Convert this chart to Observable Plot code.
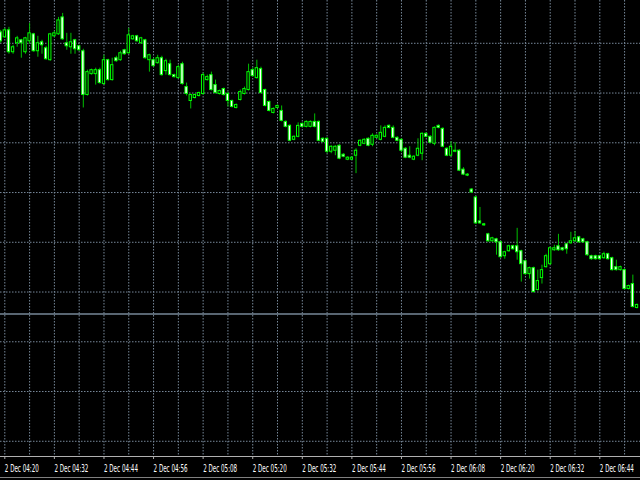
<!DOCTYPE html>
<html><head><meta charset="utf-8">
<script src="https://cdn.jsdelivr.net/npm/d3@7"></script>
<script src="https://cdn.jsdelivr.net/npm/@observablehq/plot@0.6"></script>
<style>
html,body{margin:0;padding:0;background:#000;overflow:hidden;}
#chart svg{display:block;}
#edge{height:1px;background:#808080;}
</style></head><body>
<div id="chart"></div>
<div id="edge"></div>
<script>
// 1-minute bars, first bar at 2 Dec 04:19
const firstBar = "2020-12-02T04:19:00Z";
const open = [1.31011,1.31006,1.31013,1.30991,1.31000,1.31003,1.30991,1.31002,1.31009,1.30992,
1.31001,1.30995,1.30983,1.31007,1.31009,1.31026,1.31000,1.30996,1.31003,1.30997,
1.30992,1.30948,1.30969,1.30969,1.30973,1.30959,1.30983,1.30963,1.30985,1.30983,
1.30993,1.30990,1.31004,1.31007,1.31000,1.31003,1.30983,1.30983,1.30980,1.30985,
1.30972,1.30979,1.30968,1.30965,1.30979,1.30956,1.30942,1.30945,1.30947,1.30949,
1.30963,1.30968,1.30958,1.30949,1.30954,1.30949,1.30942,1.30935,1.30943,1.30949,
1.30953,1.30973,1.30965,1.30974,1.30953,1.30941,1.30930,1.30935,1.30932,1.30921,
1.30917,1.30903,1.30906,1.30919,1.30916,1.30916,1.30921,1.30921,1.30904,1.30904,
1.30891,1.30892,1.30897,1.30888,1.30883,1.30883,1.30887,1.30897,1.30899,1.30904,
1.30898,1.30905,1.30903,1.30906,1.30917,1.30915,1.30905,1.30903,1.30894,1.30887,
1.30883,1.30887,1.30889,1.30909,1.30906,1.30899,1.30917,1.30914,1.30894,1.30887,
1.30891,1.30892,1.30873,1.30868,1.30853,1.30845,1.30821,1.30818,1.30808,1.30801,
1.30803,1.30800,1.30786,1.30791,1.30796,1.30796,1.30791,1.30781,1.30768,1.30774,
1.30752,1.30764,1.30775,1.30778,1.30792,1.30796,1.30794,1.30798,1.30799,1.30801,
1.30805,1.30803,1.30800,1.30786,1.30786,1.30786,1.30784,1.30788,1.30784,1.30775,
1.30772,1.30772,1.30753,1.30758,1.30734];
const high = [1.31013,1.31015,1.31016,1.30998,1.31007,1.31004,1.31006,1.31020,1.31010,1.31007,
1.31003,1.30997,1.31010,1.31012,1.31026,1.31030,1.31010,1.31010,1.31004,1.30998,
1.30994,1.30973,1.30974,1.30975,1.30975,1.30988,1.30984,1.30985,1.30987,1.30992,
1.30994,1.31015,1.31008,1.31008,1.31006,1.31004,1.30989,1.30985,1.30988,1.30987,
1.30984,1.30983,1.30969,1.30978,1.30981,1.30960,1.30949,1.30949,1.30951,1.30970,
1.30968,1.30971,1.30963,1.30953,1.30955,1.30951,1.30943,1.30939,1.30953,1.30956,
1.30979,1.30975,1.30983,1.30976,1.30954,1.30942,1.30935,1.30938,1.30937,1.30922,
1.30918,1.30907,1.30920,1.30920,1.30922,1.30922,1.30929,1.30922,1.30905,1.30905,
1.30897,1.30897,1.30898,1.30889,1.30886,1.30886,1.30894,1.30903,1.30904,1.30905,
1.30909,1.30908,1.30917,1.30917,1.30918,1.30917,1.30906,1.30904,1.30895,1.30896,
1.30887,1.30904,1.30910,1.30910,1.30907,1.30916,1.30918,1.30915,1.30895,1.30901,
1.30900,1.30893,1.30875,1.30869,1.30854,1.30846,1.30835,1.30819,1.30809,1.30805,
1.30804,1.30801,1.30791,1.30797,1.30797,1.30814,1.30792,1.30782,1.30775,1.30775,
1.30772,1.30777,1.30788,1.30795,1.30797,1.30808,1.30795,1.30799,1.30810,1.30811,
1.30806,1.30804,1.30801,1.30787,1.30787,1.30787,1.30790,1.30789,1.30785,1.30782,
1.30776,1.30773,1.30757,1.30767,1.30738];
const low = [1.31000,1.31005,1.30989,1.30989,1.30996,1.30985,1.30989,1.30999,1.30991,1.30986,
1.30989,1.30983,1.30982,1.31006,1.31008,1.31003,1.30993,1.30989,1.30989,1.30992,
1.30935,1.30947,1.30968,1.30958,1.30959,1.30958,1.30962,1.30962,1.30981,1.30982,
1.30988,1.30989,1.31003,1.31001,1.30999,1.30984,1.30971,1.30976,1.30979,1.30967,
1.30968,1.30967,1.30965,1.30964,1.30958,1.30947,1.30934,1.30944,1.30946,1.30948,
1.30962,1.30952,1.30949,1.30948,1.30947,1.30936,1.30935,1.30934,1.30942,1.30948,
1.30952,1.30966,1.30964,1.30949,1.30936,1.30931,1.30929,1.30934,1.30921,1.30915,
1.30901,1.30902,1.30905,1.30915,1.30915,1.30915,1.30915,1.30901,1.30900,1.30889,
1.30889,1.30887,1.30883,1.30885,1.30882,1.30882,1.30869,1.30896,1.30898,1.30896,
1.30896,1.30904,1.30902,1.30905,1.30914,1.30904,1.30901,1.30890,1.30884,1.30884,
1.30882,1.30886,1.30882,1.30905,1.30899,1.30897,1.30914,1.30895,1.30886,1.30886,
1.30890,1.30871,1.30867,1.30866,1.30849,1.30818,1.30818,1.30816,1.30800,1.30800,
1.30787,1.30784,1.30783,1.30790,1.30792,1.30782,1.30760,1.30767,1.30763,1.30749,
1.30751,1.30758,1.30774,1.30777,1.30791,1.30791,1.30791,1.30788,1.30798,1.30800,
1.30799,1.30799,1.30786,1.30782,1.30782,1.30782,1.30783,1.30782,1.30771,1.30771,
1.30771,1.30752,1.30752,1.30734,1.30733];
const close = [1.31002,1.31013,1.30991,1.30996,1.31005,1.31000,1.31005,1.31010,1.30992,1.31000,
1.30998,1.30984,1.31009,1.31010,1.31023,1.31004,1.30997,1.31001,1.30994,1.30993,
1.30948,1.30971,1.30973,1.30973,1.30960,1.30983,1.30963,1.30978,1.30982,1.30990,
1.30989,1.31008,1.31007,1.31002,1.31005,1.30985,1.30988,1.30977,1.30985,1.30968,
1.30982,1.30968,1.30966,1.30976,1.30959,1.30949,1.30948,1.30948,1.30950,1.30968,
1.30966,1.30953,1.30950,1.30952,1.30948,1.30942,1.30936,1.30938,1.30951,1.30954,
1.30971,1.30967,1.30975,1.30950,1.30937,1.30932,1.30934,1.30937,1.30922,1.30916,
1.30902,1.30906,1.30917,1.30916,1.30921,1.30921,1.30916,1.30902,1.30901,1.30891,
1.30896,1.30896,1.30884,1.30886,1.30885,1.30885,1.30892,1.30902,1.30903,1.30897,
1.30907,1.30907,1.30910,1.30915,1.30915,1.30905,1.30902,1.30892,1.30885,1.30885,
1.30886,1.30894,1.30909,1.30906,1.30900,1.30915,1.30915,1.30896,1.30887,1.30896,
1.30892,1.30872,1.30868,1.30867,1.30850,1.30819,1.30819,1.30817,1.30801,1.30804,
1.30800,1.30785,1.30790,1.30796,1.30793,1.30790,1.30778,1.30768,1.30774,1.30750,
1.30761,1.30772,1.30786,1.30794,1.30794,1.30792,1.30792,1.30793,1.30801,1.30804,
1.30800,1.30800,1.30787,1.30783,1.30783,1.30783,1.30788,1.30783,1.30772,1.30772,
1.30775,1.30753,1.30756,1.30735,1.30737];
const askPrice = 1.30728;
const gridPrices = [1.3100,1.3095,1.3090,1.3085,1.3080,1.3075,1.3070,1.3065,1.3060];
const tickTimes = ["04:20","04:32","04:44","04:56","05:08","05:20","05:32","05:44","05:56","06:08","06:20","06:32","06:44"];
const dayLabel = "2 Dec";

const MIN = 60000;
const t0 = new Date(firstBar);
const bars = open.map((o, i) => ({
  t: new Date(+t0 + i * MIN), open: o, high: high[i], low: low[i], close: close[i]
}));
const tickDates = tickTimes.map(s => new Date("2020-12-02T" + s + ":00Z"));
const gridTimes = d3.range(26).map(k => new Date(+tickDates[0] + k * 6 * MIN));
const xDomain = [new Date("2020-12-02T04:18:57.5Z"), new Date("2020-12-02T06:53:51Z")];
const yDomain = [1.305847, 1.31043];
const half = 17000;

const chart = Plot.plot({
  width: 640, height: 477,
  marginTop: 0, marginRight: 0, marginBottom: 21, marginLeft: 0,
  style: {background: "#000", color: "#fff", fontFamily: "DejaVu Sans, sans-serif", fontSize: "10px"},
  x: {type: "utc", domain: xDomain},
  y: {domain: yDomain, axis: null},
  marks: [
    Plot.ruleY(gridPrices, {stroke: "#778899", strokeDasharray: "1.5,1.5"}),
    Plot.ruleX(gridTimes, {stroke: "#778899", strokeDasharray: "1.5,1.5"}),
    Plot.ruleY([askPrice], {stroke: "#778899", strokeWidth: 1.5}),
    Plot.ruleX(bars, {x: "t", y1: "low", y2: "high", stroke: "#00c000"}),
    Plot.rect(bars, {
      x1: d => new Date(+d.t - half), x2: d => new Date(+d.t + half),
      y1: "open", y2: "close",
      fill: d => d.close < d.open ? "#ffffff" : "#000000",
      stroke: "#00ff00", strokeWidth: 1
    }),
    Plot.ruleY([yDomain[0]], {stroke: "#b0b0b0"}),
    Plot.axisX(tickDates, {
      label: null, tickSize: 3, tickPadding: 4,
      tickFormat: d => dayLabel + " " + d3.utcFormat("%H:%M")(d),
      textAnchor: "start", stroke: "#b0b0b0", fill: "#ffffff", fontSize: 5.5
    })
  ]
});
document.getElementById("chart").append(chart);
// tall, narrow tick labels: small font stretched vertically, fixed width
chart.querySelectorAll('[aria-label="x-axis tick label"] text').forEach(t => {
  t.setAttribute("textLength", "34");
  t.setAttribute("lengthAdjust", "spacingAndGlyphs");
  const b = t.getBBox();
  const tr = t.getAttribute("transform") || "";
  t.setAttribute("transform", `${tr} translate(0,${b.y}) scale(1,1.9) translate(0,${-b.y})`);
});
</script>
</body></html>
